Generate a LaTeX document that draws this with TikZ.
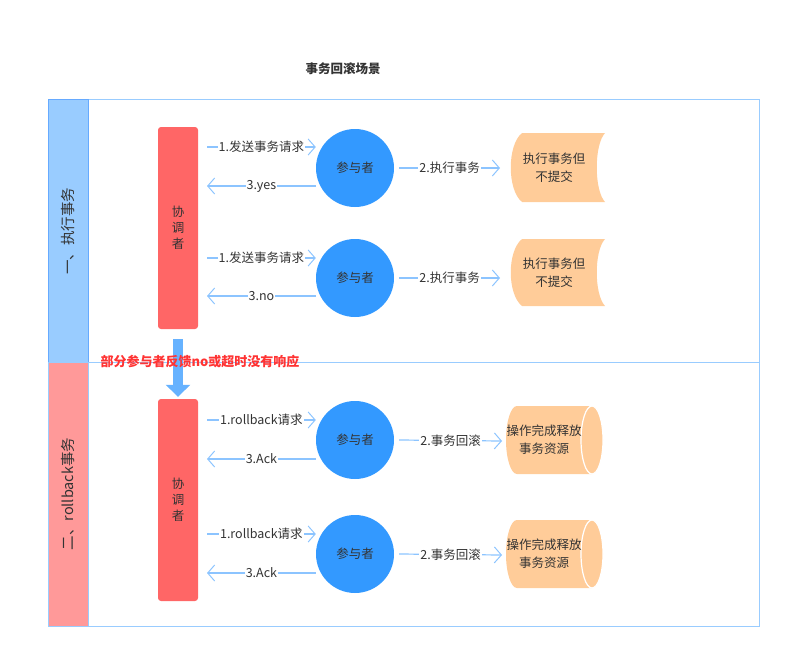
\documentclass[tikz,border=0pt]{standalone}
\usepackage{fontspec}
\setmainfont{Noto Sans CJK SC}
\usetikzlibrary{arrows.meta}
\definecolor{lanebd}{HTML}{99CCFF}
\definecolor{headbd}{HTML}{66AAFF}
\definecolor{headone}{HTML}{99CCFF}
\definecolor{headtwo}{HTML}{FF9999}
\definecolor{coordred}{HTML}{FF6666}
\definecolor{partblue}{HTML}{3399FF}
\definecolor{dataorange}{HTML}{FFCC99}
\definecolor{linkblue}{HTML}{8CC4FF}
\definecolor{warnred}{HTML}{FF3333}
\definecolor{bigarrow}{HTML}{66B2FF}
\definecolor{txt}{HTML}{333333}
\begin{document}
\begin{tikzpicture}[x=1pt,y=-1pt,
  coordbox/.style={fill=coordred,rounded corners=3pt,minimum width=40pt,minimum height=202pt,
    align=center,text=txt,font=\fontsize{12.5}{16}\selectfont},
  part/.style={circle,fill=partblue,minimum size=78pt,inner sep=0pt,text=txt,font=\fontsize{12.5}{14}\selectfont},
  datatext/.style={align=center,text=txt,font=\fontsize{12.5}{18}\selectfont,inner sep=0pt},
  link/.style={draw=linkblue,line width=1.2pt,-{Straight Barb[length=7pt,width=16pt,line width=1pt]}},
  linklabel/.style={fill=white,inner sep=1pt,text=txt,font=\fontsize{12.5}{14}\selectfont},
  lanetext/.style={rotate=90,text=txt,font=\fontsize{14.5}{16}\selectfont}]
\useasboundingbox (0,0) rectangle (791,658);

% title
\node[font=\fontsize{12.5}{14}\selectfont\bfseries,text=txt] (title) at (343,69) {事务回滚场景};

% lanes
\draw[lanebd,line width=1pt] (48,100) rectangle (759,626);
\draw[lanebd,line width=1pt] (48,362) -- (759,362);
\draw[fill=headone,draw=headbd,line width=1pt] (48,100) rectangle (88,362);
\draw[fill=headtwo,draw=lanebd,line width=1pt] (48,362) rectangle (88,626);
\node[lanetext] (lane1) at (68,231) {一、执行事务};
\node[lanetext] (lane2) at (68,494) {二、rollback事务};

% coordinators
\node[coordbox] (c1) at (178,228) {协\\调\\者};
\node[coordbox] (c2) at (178,500) {协\\调\\者};

% participants
\node[part] (p1) at (355,168) {参与者};
\node[part] (p2) at (355,278) {参与者};
\node[part] (p3) at (355,440) {参与者};
\node[part] (p4) at (355,554) {参与者};

% stored data, lane one
\fill[dataorange] (522,133) -- (605,133) .. controls (594,145) and (594,190) .. (605,202)
  -- (522,202) .. controls (507,190) and (507,145) .. (522,133) -- cycle;
\node[datatext] (d1) at (554,168) {执行事务但\\不提交};
\fill[dataorange] (522,239) -- (605,239) .. controls (594,251) and (594,294) .. (605,306)
  -- (522,306) .. controls (507,294) and (507,251) .. (522,239) -- cycle;
\node[datatext] (d2) at (554,273) {执行事务但\\不提交};

% cylinders, lane two
\fill[dataorange] (517,406) -- (592,406) arc(-90:90:11 and 34) -- (517,474) arc(90:270:11 and 34) -- cycle;
\draw[white,line width=1.2pt] (592,440) ellipse (11 and 34);
\node[datatext] (d3) at (544,440) {操作完成释放\\事务资源};
\fill[dataorange] (517,520) -- (592,520) arc(-90:90:11 and 34) -- (517,588) arc(90:270:11 and 34) -- cycle;
\draw[white,line width=1.2pt] (592,554) ellipse (11 and 34);
\node[datatext] (d4) at (544,554) {操作完成释放\\事务资源};

% request / reply connectors
\coordinate (q1) at (207,147);
\coordinate (r1) at (207,186);
\coordinate (q2) at (207,258);
\coordinate (r2) at (207,296);
\coordinate (q3) at (207,420);
\coordinate (r3) at (207,459);
\coordinate (q4) at (207,534);
\coordinate (r4) at (207,573);

\draw[link] (q1) -- node[linklabel]{1.发送事务请求} (p1.west|-q1);
\draw[link] (p1.west|-r1) -- node[linklabel]{3.yes} (r1);
\draw[link] (q2) -- node[linklabel]{1.发送事务请求} (p2.west|-q2);
\draw[link] (p2.west|-r2) -- node[linklabel]{3.no} (r2);
\draw[link] (q3) -- node[linklabel]{1.rollback请求} (p3.west|-q3);
\draw[link] (p3.west|-r3) -- node[linklabel]{3.Ack} (r3);
\draw[link] (q4) -- node[linklabel]{1.rollback请求} (p4.west|-q4);
\draw[link] (p4.west|-r4) -- node[linklabel]{3.Ack} (r4);

% participant to data
\draw[link] ([xshift=5pt]p1.east) -- node[linklabel]{2.执行事务} (500,168);
\draw[link] ([xshift=5pt]p2.east) -- node[linklabel]{2.执行事务} (500,278);
\draw[link] ([xshift=5pt]p3.east) -- node[linklabel]{2.事务回滚} (502,441);
\draw[link] ([xshift=5pt]p4.east) -- node[linklabel]{2.事务回滚} (502,555);

% fallback arrow
\draw[bigarrow,line width=10pt,-{Triangle[length=12pt,width=24pt]}] ([yshift=-10pt]c1.south) -- ([yshift=2pt]c2.north);
\node[anchor=west,text=warnred,font=\fontsize{13}{15}\selectfont\bfseries] (warn) at (97,362) {部分参与者反馈no或超时没有响应};
\end{tikzpicture}
\end{document}
